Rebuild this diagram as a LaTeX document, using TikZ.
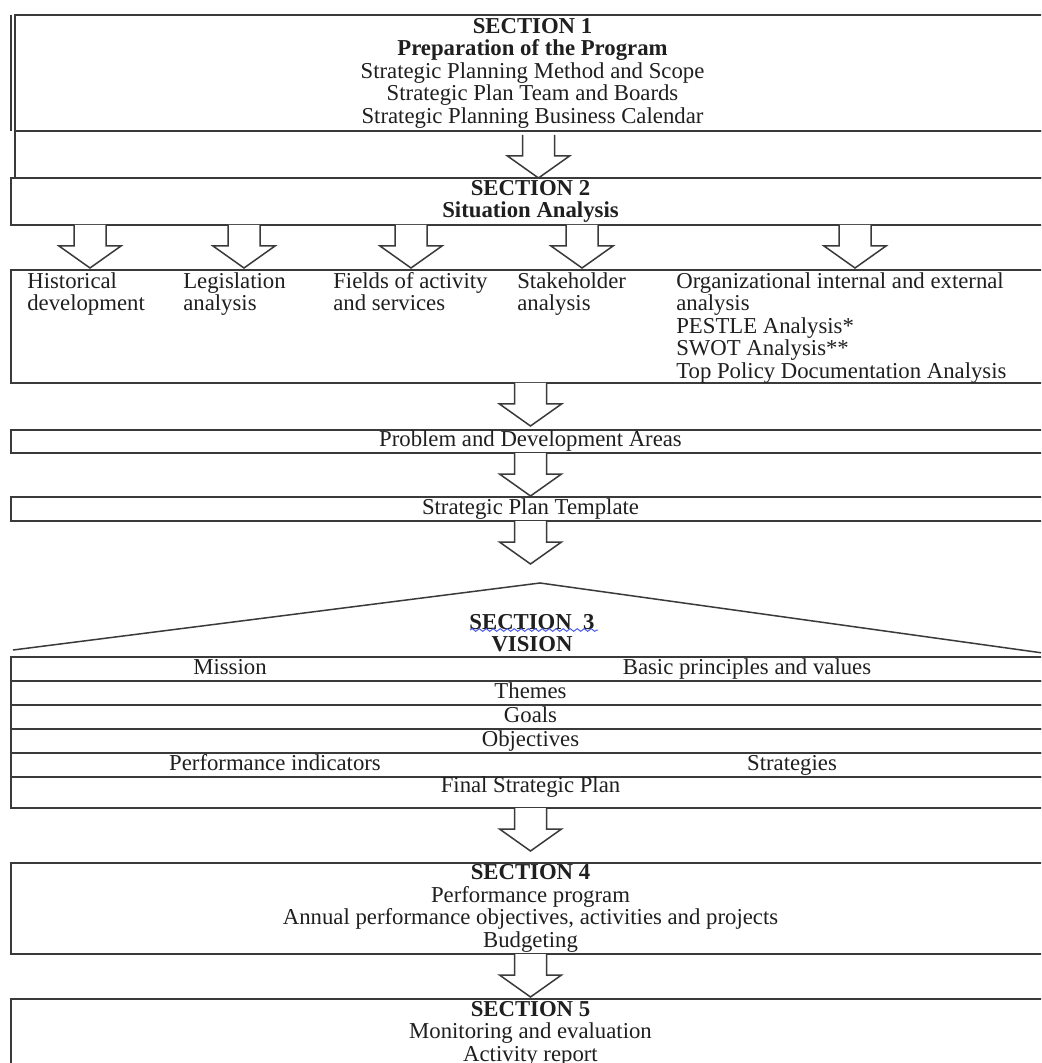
\documentclass[tikz,border=0pt]{standalone}
\usepackage{fontspec}
\setmainfont{Liberation Serif}
\usetikzlibrary{positioning,calc,decorations.pathmorphing}
\definecolor{ink}{HTML}{1F1F1F}
\definecolor{rule}{HTML}{3A3A3A}
\definecolor{spell}{HTML}{4B5BE6}
\newcommand\diagfont{\fontsize{13.65}{13.5}\selectfont}

\tikzset{barrow/.pic={
  \draw[rule,line width=0.9pt,fill=white] (-16,0) -- (-16,21) -- (-31,21) -- (0,43) -- (31,21) -- (16,21) -- (16,0);}}

\begin{document}
\begin{tikzpicture}[
  x=0.6pt, y=-0.6pt,
  band/.style={draw=rule,line width=0.9pt,rectangle,inner sep=0pt,outer sep=0pt,
               minimum width=623.4pt,align=center,font=\diagfont,text=ink},
  row/.style={band,minimum height=14.4pt,text height=9.4pt,text depth=2.9pt},
  txt/.style={inner sep=0pt,font=\diagfont,text=ink,text height=9.4pt,text depth=2.9pt},
  lst/.style={inner sep=0pt,font=\diagfont,text=ink,align=left,anchor=north west}]
  \useasboundingbox (0,0) rectangle (1041,1063);
  \clip (0,0) rectangle (1041,1063);
  \fill[white] (0,0) rectangle (1041,1063);

  % section 1 and 2
  \node[band,anchor=north west,minimum width=621pt,minimum height=69.6pt] (s1) at (15,15)
    {\textbf{SECTION 1}\\\textbf{Preparation of the Program}\\Strategic Planning Method and Scope\\
     Strategic Plan Team and Boards\\Strategic Planning Business Calendar};
  \draw[rule,line width=0.9pt] ([xshift=-2.4pt]s1.north west) -- ([xshift=-2.4pt]s1.south west);
  \node[band,minimum width=621pt,minimum height=28.2pt,below=0pt of s1] (gap) {};
  \node[band,anchor=north west,minimum height=28.2pt,font=\diagfont\bfseries] (s2) at (11,178)
    {SECTION 2\\Situation Analysis};
  \pic at ($(gap.north)+(6,4)$) {barrow};
  \foreach \dx in {79,233,400,571,844}
    \pic at ($(s2.south west)+(\dx,0)$) {barrow};

  % situation analysis
  \node[band,anchor=north west,minimum height=67.8pt] (an) at (11,270) {};
  \node[lst] (hist) at (27,272) {Historical\\development};
  \node[lst] (legis) at (183,272) {Legislation\\analysis};
  \node[lst] (field) at (333,272) {Fields of activity\\and services};
  \node[lst] (stake) at (517,272) {Stakeholder\\analysis};
  \node[lst] (org) at (676,272) {Organizational internal and external\\analysis\\PESTLE Analysis*\\
    SWOT Analysis**\\Top Policy Documentation Analysis};
  \pic at (an.south) {barrow};
  \node[row,anchor=north west,minimum height=13.8pt] (pd) at (11,430) {Problem and Development Areas};
  \pic at (pd.south) {barrow};
  \node[row,anchor=north west] (tpl) at (11,497) {Strategic Plan Template};
  \pic at (tpl.south) {barrow};

  % section 3
  \draw[rule,line width=0.9pt] (13,650) -- (540,583) -- (1050,654);
  \node[inner sep=0pt,align=center,font=\diagfont\bfseries,text=ink] (s3) at (532,633) {SECTION\ \ 3\\VISION};
  \draw[spell,line width=0.6pt,decorate,decoration={snake,amplitude=0.8pt,segment length=4.2pt}]
    ($(s3.center)+(-62,-3)$) -- ($(s3.center)+(66,-3)$);
  \node[row,anchor=north west] (r1) at (11,657) {};
  \node[row,below=0pt of r1] (r2) {Themes};
  \node[row,below=0pt of r2] (r3) {Goals};
  \node[row,below=0pt of r3] (r4) {Objectives};
  \node[row,below=0pt of r4] (r5) {};
  \node[row,minimum height=18.6pt,below=0pt of r5] (r6) {};
  \node[txt] (mis) at ($(r1.west)+(219,0)$) {Mission};
  \node[txt] (basic) at ($(r1.west)+(736,0)$) {Basic principles and values};
  \node[txt] (pi) at ($(r5.west)+(264,0)$) {Performance indicators};
  \node[txt] (strat) at ($(r5.west)+(781,0)$) {Strategies};
  \node[txt] (fin) at ($(r6.center)+(0,-5)$) {Final Strategic Plan};
  \pic at (r6.south) {barrow};

  % section 4 and 5
  \node[band,anchor=north west,minimum height=54.6pt] (s4) at (11,863)
    {\textbf{SECTION 4}\\Performance program\\Annual performance objectives, activities and projects\\Budgeting};
  \pic at (s4.south) {barrow};
  \node[band,anchor=north west,minimum height=41.4pt] (s5) at (11,999)
    {\textbf{SECTION 5}\\Monitoring and evaluation\\Activity report};
\end{tikzpicture}
\end{document}
